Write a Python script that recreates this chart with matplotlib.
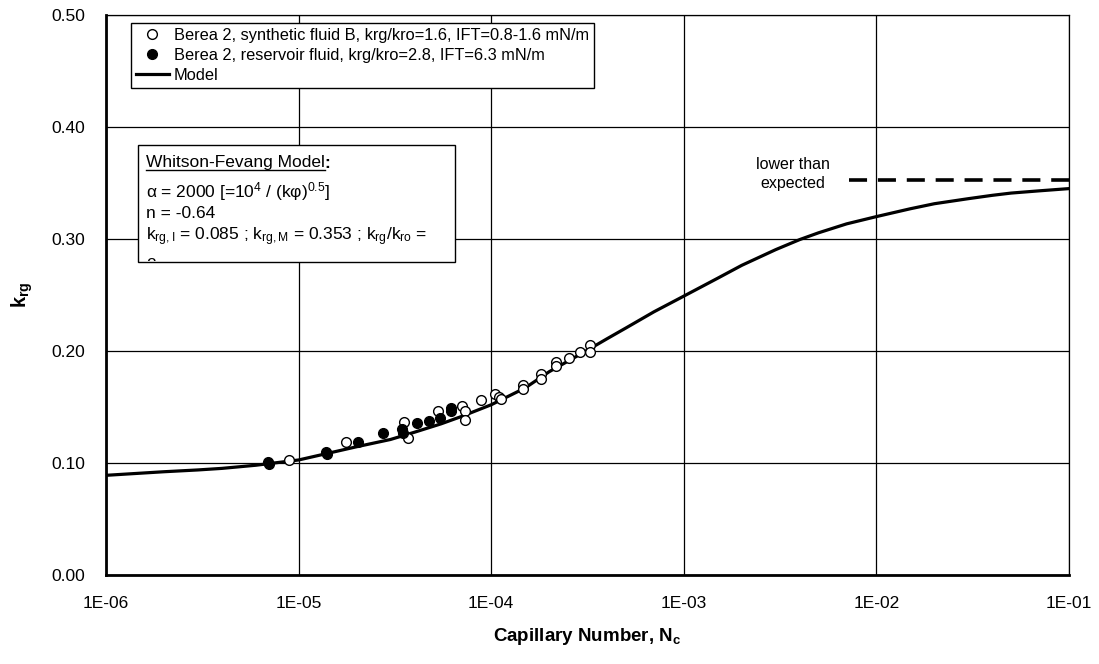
import numpy as np
import matplotlib
matplotlib.use("Agg")
import matplotlib.pyplot as plt
from matplotlib.patches import Rectangle
from matplotlib.transforms import Bbox, TransformedBbox
from matplotlib.ticker import FixedLocator, FuncFormatter

plt.rcParams['font.family'] = ['Liberation Sans', 'DejaVu Sans']
plt.rcParams['mathtext.fontset'] = 'custom'
plt.rcParams['mathtext.rm'] = 'Liberation Sans'
plt.rcParams['mathtext.it'] = 'Liberation Sans'
plt.rcParams['mathtext.bf'] = 'Liberation Sans:bold'

# Berea 2, synthetic fluid B (open circles)
open_nc = [8.9e-6, 1.77e-5, 3.54e-5, 3.69e-5, 5.28e-5, 7.03e-5, 7.31e-5, 7.31e-5,
           8.8e-5, 1.05e-4, 1.10e-4, 1.12e-4, 1.46e-4, 1.46e-4, 1.82e-4, 1.82e-4,
           2.17e-4, 2.17e-4, 2.55e-4, 2.89e-4, 3.26e-4, 3.26e-4]
open_krg = [0.1027, 0.1185, 0.1369, 0.1226, 0.1467, 0.151, 0.1467, 0.138,
            0.156, 0.1613, 0.159, 0.157, 0.1696, 0.166, 0.1795, 0.175,
            0.190, 0.187, 0.1935, 0.1988, 0.2054, 0.1994]

# Berea 2, reservoir fluid (filled circles)
filled_nc = [6.9e-6, 7.0e-6, 1.38e-5, 1.40e-5, 2.04e-5, 2.74e-5, 3.43e-5, 3.5e-5,
             4.1e-5, 4.77e-5, 5.42e-5, 6.16e-5, 6.16e-5]
filled_krg = [0.1012, 0.099, 0.110, 0.108, 0.119, 0.1265, 0.130, 0.127,
              0.136, 0.1375, 0.140, 0.1494, 0.146]

# model curve
model_nc = [1e-6, 2e-6, 3e-6, 4e-6, 6e-6, 1e-5, 2e-5, 3e-5, 4e-5, 5.5e-5, 7e-5,
            1e-4, 1.5e-4, 2e-4, 3e-4, 4e-4, 5e-4, 7e-4, 1e-3, 1.5e-3, 2e-3,
            3e-3, 4e-3, 5e-3, 7e-3, 1e-2, 1.5e-2, 2e-2, 3e-2, 4e-2, 5e-2,
            7e-2, 1e-1]
model_krg = [0.089, 0.0922, 0.0938, 0.0952, 0.0980, 0.1027, 0.1145, 0.121,
             0.1275, 0.135, 0.1415, 0.152, 0.167, 0.1815, 0.1985, 0.211,
             0.2205, 0.2350, 0.2490, 0.2650, 0.2765, 0.2905, 0.2995, 0.3055,
             0.3135, 0.3200, 0.3270, 0.3315, 0.3360, 0.3390, 0.3410, 0.3430,
             0.3450]

# "lower than expected" level
dash_nc = [7.2e-3, 1e-1]
dash_krg = [0.353, 0.353]

xticks = [1e-6, 1e-5, 1e-4, 1e-3, 1e-2, 1e-1]
xticklabels = ['1E-06', '1E-05', '1E-04', '1E-03', '1E-02', '1E-01']
yticks = [0.0, 0.1, 0.2, 0.3, 0.4, 0.5]

fig = plt.figure(figsize=(10.99, 6.64), dpi=100)
ax = fig.add_axes([106 / 1099, 1 - 575 / 664, 963 / 1099, 560 / 664])

ax.plot(model_nc, model_krg, color='black', lw=2.3, zorder=3, label='Model')
ax.plot(dash_nc, dash_krg, color='black', lw=2.6, dashes=(5, 3), zorder=3)
ax.plot(open_nc, open_krg, 'o', ms=7, mfc='white', mec='black', mew=1.0, zorder=4,
        label='Berea 2, synthetic fluid B, krg/kro=1.6, IFT=0.8-1.6 mN/m')
ax.plot(filled_nc, filled_krg, 'o', ms=7, mfc='black', mec='black', zorder=4,
        label='Berea 2, reservoir fluid, krg/kro=2.8, IFT=6.3 mN/m')

ax.set_xscale('log')
ax.set_xlim(1e-6, 1e-1)
ax.set_ylim(0, 0.5)
ax.xaxis.set_major_locator(FixedLocator(xticks))
ax.xaxis.set_minor_locator(FixedLocator([]))
ax.set_xticks(xticks)
ax.set_xticklabels(xticklabels)
ax.set_yticks(yticks)
ax.yaxis.set_major_formatter(FuncFormatter(lambda v, p: '%.2f' % v))
ax.tick_params(length=0, labelsize=12.5)
ax.tick_params(axis='y', pad=15)
ax.tick_params(axis='x', pad=15)
ax.grid(True, color='black', lw=0.9)
ax.set_axisbelow(True)
for s in ['top', 'right']:
    ax.spines[s].set_linewidth(0.9)
for s in ['left', 'bottom']:
    ax.spines[s].set_linewidth(2.0)

ax.set_xlabel(r'Capillary Number, $\mathbf{N_c}$', fontsize=13.5, fontweight='bold', labelpad=11)
ax.set_ylabel(r'$\mathbf{k_{rg}}$', fontsize=14.5, labelpad=12)

h, l = ax.get_legend_handles_labels()
leg = ax.legend([h[1], h[2], h[0]], [l[1], l[2], l[0]], loc='upper left',
                bbox_to_anchor=(25 / 963, 552 / 560), borderaxespad=0,
                fontsize=11.8, frameon=True, fancybox=False, edgecolor='black',
                framealpha=1, handlelength=2.0, handletextpad=0.3,
                labelspacing=0.3, borderpad=0.3)
leg.get_frame().set_linewidth(1.0)

# model parameter box
bx0, by0 = 32 / 963, (575 - 262) / 560
bw, bh = (455 - 138) / 963, (262 - 145) / 560
box = Rectangle((bx0, by0), bw, bh, transform=ax.transAxes, facecolor='white',
                edgecolor='black', lw=1.0, zorder=5)
ax.add_patch(box)
fs = 12.5
tx = 40 / 963
t1 = ax.text(tx, (575 - 163) / 560, 'Whitson-Fevang Model', transform=ax.transAxes,
             fontsize=fs, va='center', zorder=6)
fig.canvas.draw()
bb = t1.get_window_extent().transformed(ax.transAxes.inverted())
ax.text(bb.x1, (575 - 163) / 560, ':', transform=ax.transAxes, fontsize=fs,
        fontweight='bold', va='center', zorder=6)
ax.plot([bb.x0, bb.x1], [bb.y0 + 0.001, bb.y0 + 0.001], color='black', lw=1.0,
        transform=ax.transAxes, zorder=6, clip_on=False)
ax.text(tx, (575 - 192) / 560, '\u03b1 = 2000 [=10$^{4}$ / (k\u03c6)$^{0.5}$]',
        transform=ax.transAxes, fontsize=fs, va='center', zorder=6)
ax.text(tx, (575 - 213) / 560, 'n = -0.64', transform=ax.transAxes, fontsize=fs,
        va='center', zorder=6)
ax.text(tx, (575 - 237) / 560,
        r'k$_{rg,I}$ = 0.085 ; k$_{rg,M}$ = 0.353 ; k$_{rg}$/k$_{ro}$ =',
        transform=ax.transAxes, fontsize=fs, va='center', zorder=6)
t2 = ax.text(tx, (575 - 265) / 560, '2', transform=ax.transAxes, fontsize=fs,
             va='center', zorder=6)
t2.set_clip_box(TransformedBbox(Bbox([[bx0, by0 + 0.002], [bx0 + bw, by0 + bh]]),
                                ax.transAxes))
t2.set_clip_on(True)

ax.text(0.7135, (575 - 174) / 560, 'lower than\nexpected',
        transform=ax.transAxes, fontsize=11.5, ha='center', va='center',
        linespacing=1.3)

fig.savefig('out.png', dpi=100)
